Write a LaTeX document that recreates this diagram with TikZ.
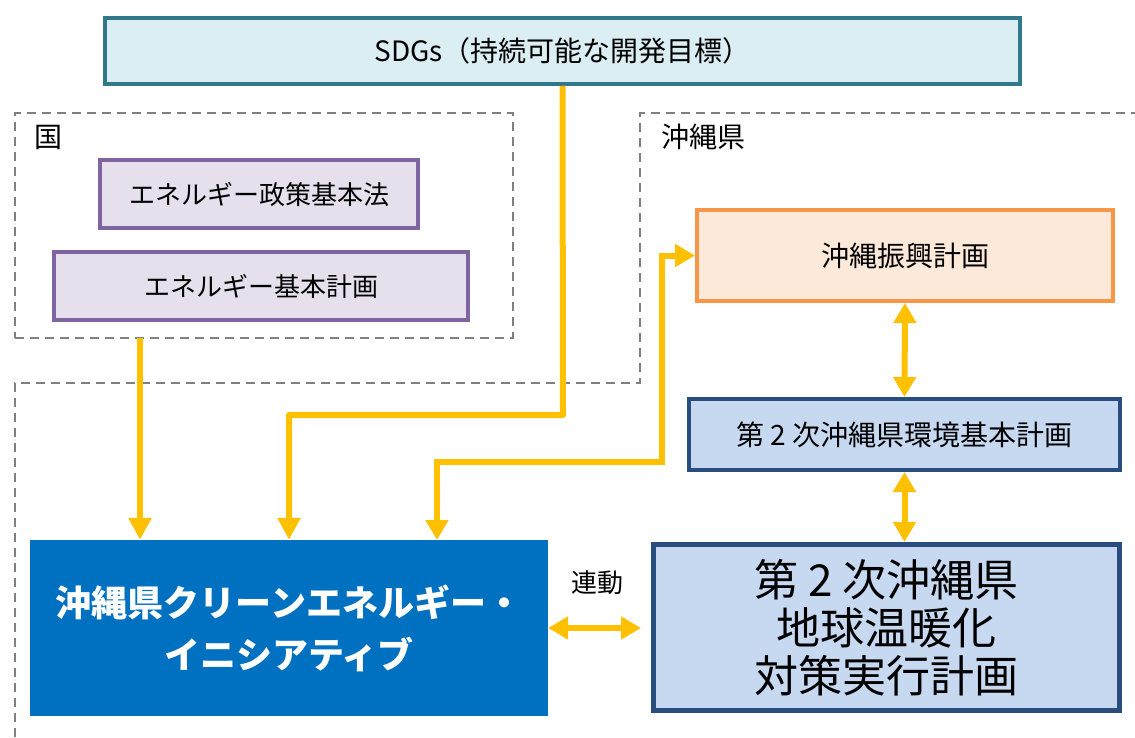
\documentclass[tikz,border=0pt]{standalone}
\usepackage{fontspec}
\setmainfont{Noto Sans CJK JP}
\usetikzlibrary{arrows.meta}
\definecolor{sdgline}{HTML}{31788A}
\definecolor{sdgfill}{HTML}{DAEEF3}
\definecolor{kuniline}{HTML}{8064A2}
\definecolor{kunifill}{HTML}{E5E0EC}
\definecolor{shinkoline}{HTML}{F79646}
\definecolor{shinkofill}{HTML}{FDE9D9}
\definecolor{kenline}{HTML}{2A4D80}
\definecolor{kenfill}{HTML}{C6D9F1}
\definecolor{initblue}{HTML}{0070C0}
\definecolor{arrowyellow}{HTML}{FFC000}
\definecolor{groupgray}{HTML}{808080}

\begin{document}
\begin{tikzpicture}[x=1pt, y=-1pt,
    box/.style={draw=#1, line width=4pt, inner sep=0pt, font=\fontsize{28}{32}\selectfont},
    group/.style={draw=groupgray, line width=2pt, dash pattern=on 9pt off 6pt},
    label/.style={font=\fontsize{28}{32}\selectfont},
    arr/.style={draw=arrowyellow, line width=6pt, line join=round, -{Triangle[width=22pt, length=22pt]}},
    dbl/.style={draw=arrowyellow, line width=6pt, {Triangle[width=22pt, length=20pt]}-{Triangle[width=22pt, length=20pt]}}]
  \useasboundingbox (0,0) rectangle (1135,738);
  \node[box=sdgline, fill=sdgfill, minimum width=915pt, minimum height=66pt] (sdgs) at (562.5,51) {SDGs（持続可能な開発目標）};
  \node[group, minimum width=498pt, minimum height=225pt] (kuni) at (264,225.5) {};
  \node[label] (kunilabel) at (48,137) {国};
  \draw[group] (1140,113) -- (640,113) -- (640,383) -- (15,383) -- (15,745);
  \node[label] (kenlabel) at (703,137) {沖縄県};
  \node[box=kuniline, fill=kunifill, minimum width=318pt, minimum height=68pt, font=\fontsize{26}{30}\selectfont] (seisaku) at (259,194) {エネルギー政策基本法};
  \node[box=kuniline, fill=kunifill, minimum width=414pt, minimum height=68pt, font=\fontsize{26}{30}\selectfont] (kihon) at (261,286) {エネルギー基本計画};
  \node[box=shinkoline, fill=shinkofill, minimum width=416pt, minimum height=91pt] (shinko) at (905,255.5) {沖縄振興計画};
  \node[box=kenline, fill=kenfill, minimum width=431pt, minimum height=71pt] (kankyo) at (904.5,434.5) {第 2 次沖縄県環境基本計画};
  \node[box=kenline, line width=5pt, fill=kenfill, minimum width=466pt, minimum height=166pt, align=center,
        font=\fontsize{44}{48}\selectfont] (ondanka) at (886.5,627.5) {第 2 次沖縄県\\地球温暖化\\対策実行計画};
  \node[fill=initblue, text=white, minimum width=518pt, minimum height=176pt, inner sep=0pt, align=center,
        font=\fontsize{36}{52}\selectfont\bfseries] (initiative) at (289,628) {沖縄県クリーンエネルギー・\\イニシアティブ};
  \coordinate (kunifoot) at (140,338);
  \coordinate (sdgbend) at (563,415);
  \coordinate (shinkobend) at (662,462);
  \coordinate (shinkofoot) at (437,540);
  \draw[arr] (kunifoot) -- (kunifoot |- initiative.north);
  \draw[arr] (sdgs.south) -- (sdgbend) -| (initiative.north);
  \draw[dbl] (shinko.west) -| (shinkobend) -| (shinkofoot);
  \draw[dbl] (shinko.south) -- (kankyo.north);
  \draw[dbl] (kankyo.south) -- (kankyo.south |- ondanka.north);
  \draw[dbl, shorten >=10pt] (initiative.east) -- (initiative.east -| ondanka.west);
  \node[label, font=\fontsize{26}{30}\selectfont] (rendo) at (597,583) {連動};
\end{tikzpicture}
\end{document}
